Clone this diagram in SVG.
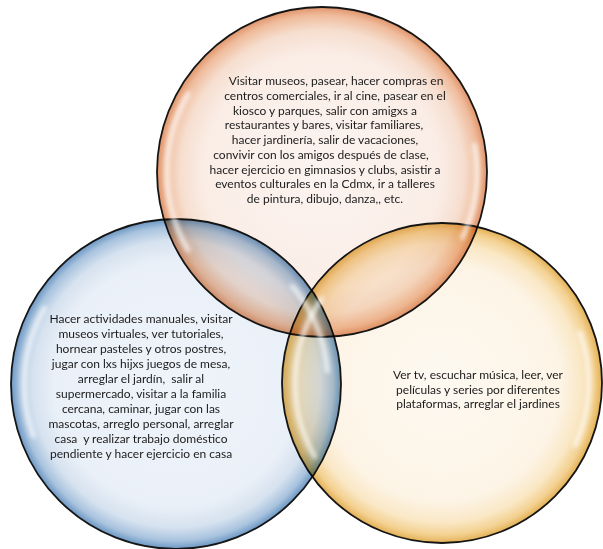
<svg xmlns="http://www.w3.org/2000/svg" width="603" height="549" viewBox="0 0 603 549">
<style>
.c{mix-blend-mode:multiply;stroke:#151515;stroke-width:1.8}
.t{font-family:Lato,"Liberation Sans",sans-serif;font-size:12px;fill:#1b1b1b;text-anchor:middle}
.hl{fill:none;stroke:#ffffff;stroke-width:5;stroke-linecap:round;opacity:.7;filter:url(#blur)}
</style>
<defs>
<filter id="blur" x="-50%" y="-50%" width="200%" height="200%"><feGaussianBlur stdDeviation="2.2"/></filter>
<radialGradient id="gO" cx="50%" cy="50%" r="50%">
<stop offset="0" stop-color="#fcf4f0"/>
<stop offset="0.72" stop-color="#faede6"/>
<stop offset="0.86" stop-color="#f6decf"/>
<stop offset="0.95" stop-color="#efbc9c"/>
<stop offset="1" stop-color="#e0946a"/>
</radialGradient>
<radialGradient id="gB" cx="50%" cy="50%" r="50%">
<stop offset="0" stop-color="#eff4fa"/>
<stop offset="0.74" stop-color="#eaf0f8"/>
<stop offset="0.87" stop-color="#d6e2ef"/>
<stop offset="0.95" stop-color="#a9c3de"/>
<stop offset="1" stop-color="#6a96c3"/>
</radialGradient>
<radialGradient id="gY" cx="50%" cy="50%" r="50%">
<stop offset="0" stop-color="#fdf9f1"/>
<stop offset="0.74" stop-color="#fdf4e6"/>
<stop offset="0.87" stop-color="#fae8c6"/>
<stop offset="0.95" stop-color="#f3d191"/>
<stop offset="1" stop-color="#e3b055"/>
</radialGradient>
</defs>
<rect width="603" height="549" fill="#ffffff"/>
<g id="circle-top">
<circle class="c" cx="322" cy="172" r="165" fill="url(#gO)"/>
</g>
<g id="circle-left">
<circle class="c" cx="176" cy="384" r="165" fill="url(#gB)"/>
</g>
<g id="circle-right">
<circle class="c" cx="442" cy="383" r="160" fill="url(#gY)"/>
</g>
<g id="highlights">
<path class="hl" d="M188,94 A155,155 0 0 0 188,250"/>
<path class="hl" d="M474.6,145 A155,155 0 0 1 462.5,237.5"/>
<path class="hl" d="M44.4,308 A152,152 0 0 0 33.2,436"/>
<path class="hl" d="M292.4,286.3 A152,152 0 0 1 327.4,370.8"/>
<path class="hl" d="M321.6,298.7 A147,147 0 0 0 314.7,456.5"/>
<path class="hl" d="M580.1,332.7 A147,147 0 0 1 575.2,445.1"/>
</g>
<g id="connectors"/>
<g id="text-top">
<text class="t" x="336" y="85">Visitar museos, pasear, hacer compras en</text>
<text class="t" x="335" y="99.75">centros comerciales, ir al cine, pasear en el</text>
<text class="t" x="325" y="114.5">kiosco y parques, salir con amigxs a</text>
<text class="t" x="324" y="129.25">restaurantes y bares, visitar familiares,</text>
<text class="t" x="325" y="144">hacer jardinería, salir de vacaciones,</text>
<text class="t" x="321" y="158.75">convivir con los amigos después de clase,</text>
<text class="t" x="325" y="173.5">hacer ejercicio en gimnasios y clubs, asistir a</text>
<text class="t" x="325" y="188.25">eventos culturales en la Cdmx, ir a talleres</text>
<text class="t" x="325" y="203">de pintura, dibujo, danza,, etc.</text>
</g>
<g id="text-left">
<text class="t" x="141" y="323">Hacer actividades manuales, visitar</text>
<text class="t" x="141" y="338">museos virtuales, ver tutoriales,</text>
<text class="t" x="141" y="353">hornear pasteles y otros postres,</text>
<text class="t" x="141" y="368">jugar con lxs hijxs juegos de mesa,</text>
<text class="t" x="141" y="383" xml:space="preserve">arreglar el jardín,  salir al</text>
<text class="t" x="141" y="398">supermercado, visitar a la familia</text>
<text class="t" x="141" y="413">cercana, caminar, jugar con las</text>
<text class="t" x="141" y="428">mascotas, arreglo personal, arreglar</text>
<text class="t" x="141" y="443" xml:space="preserve">casa  y realizar trabajo doméstico</text>
<text class="t" x="141" y="458">pendiente y hacer ejercicio en casa</text>
</g>
<g id="text-right">
<text class="t" x="478" y="379">Ver tv, escuchar música, leer, ver</text>
<text class="t" x="478" y="393.5">películas y series por diferentes</text>
<text class="t" x="478" y="408">plataformas, arreglar el jardines</text>
</g>
</svg>
